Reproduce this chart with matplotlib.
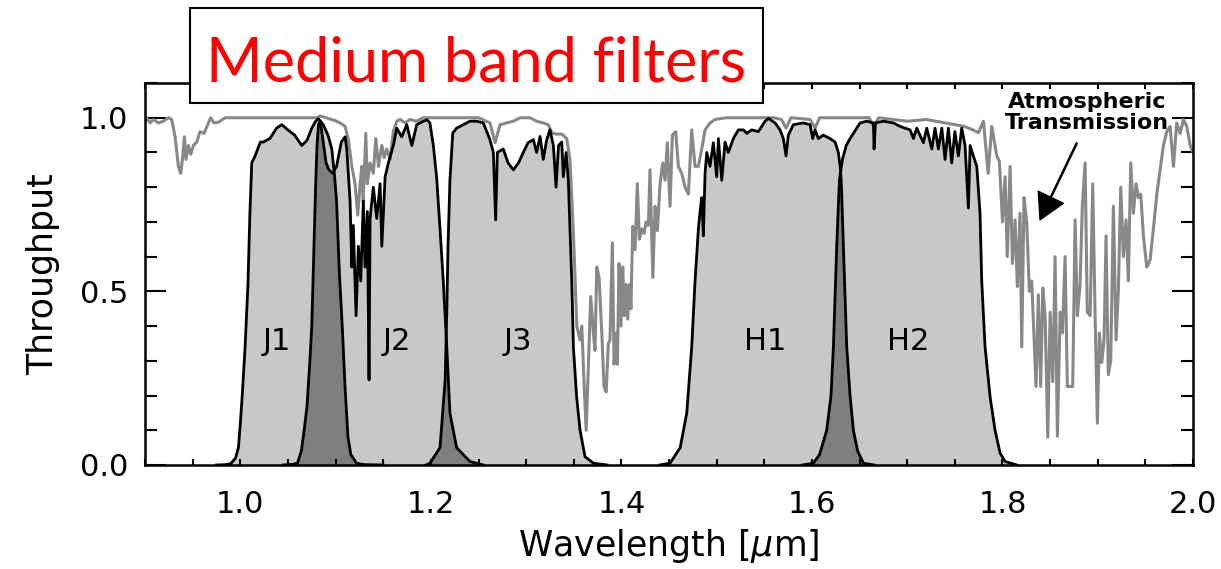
import numpy as np
import matplotlib
matplotlib.use('Agg')
import matplotlib.pyplot as plt
from matplotlib.patches import Rectangle
from matplotlib.ticker import MultipleLocator

plt.rcParams['font.family'] = 'DejaVu Sans'

# Atmospheric transmission
atm_wl = [0.900, 0.9017, 0.9052, 0.9087, 0.914, 0.9192, 0.9245, 0.928, 0.9315, 0.935,
          0.9375, 0.9396, 0.9413, 0.943, 0.9455, 0.948, 0.9507, 0.9543, 0.9577, 0.962,
          0.9665, 0.969, 0.9724, 0.977, 0.984, 1.000, 1.050, 1.080, 1.0837, 1.090,
          1.101, 1.1047, 1.110, 1.1134, 1.117, 1.1204, 1.1232, 1.1255, 1.1275, 1.129,
          1.1317, 1.1333, 1.1362, 1.1396, 1.1422, 1.145, 1.1485, 1.151, 1.1537, 1.1572,
          1.1606, 1.1642, 1.1677, 1.173, 1.178, 1.185, 1.192, 1.220, 1.250, 1.262,
          1.2674, 1.2726, 1.2866, 1.2936, 1.304, 1.311, 1.318, 1.3233, 1.327, 1.332,
          1.3374, 1.3426, 1.346, 1.3496, 1.3532, 1.3566, 1.3584, 1.3608, 1.363, 1.3653,
          1.3678, 1.3706, 1.3723, 1.3741, 1.3766, 1.3794, 1.3818, 1.384, 1.3863, 1.388,
          1.3905, 1.3923, 1.3944, 1.3958, 1.3975, 1.3996, 1.4014, 1.403, 1.4049, 1.4066,
          1.4084, 1.410, 1.4119, 1.4143, 1.4167, 1.4188, 1.4214, 1.4238, 1.4259, 1.4283,
          1.430, 1.433, 1.4353, 1.4377, 1.4406, 1.4434, 1.4458, 1.4482, 1.451, 1.4535,
          1.457, 1.4598, 1.4633, 1.4668, 1.4703, 1.4738, 1.4773, 1.4808, 1.4843, 1.4878,
          1.493, 1.4983, 1.510, 1.560, 1.568, 1.5728, 1.578, 1.598, 1.6033, 1.608,
          1.660, 1.6645, 1.670, 1.700, 1.720, 1.740, 1.760, 1.769, 1.7747, 1.780,
          1.785, 1.7887, 1.794, 1.7967, 1.800, 1.8027, 1.805, 1.808, 1.8104, 1.8132,
          1.8156, 1.8184, 1.8202, 1.8226, 1.8254, 1.8282, 1.8307, 1.8352, 1.8376, 1.8401,
          1.8423, 1.8447, 1.8475, 1.850, 1.8528, 1.8552, 1.8576, 1.8605, 1.8629, 1.8657,
          1.8681, 1.871, 1.8737, 1.8762, 1.8786, 1.8814, 1.8838, 1.8867, 1.889, 1.892,
          1.8947, 1.8972, 1.8996, 1.9017, 1.9042, 1.9066, 1.9087, 1.9111, 1.9136, 1.9164,
          1.9192, 1.9216, 1.9241, 1.9269, 1.9297, 1.9321, 1.9346, 1.9374, 1.9402, 1.9426,
          1.9451, 1.9479, 1.9514, 1.9549, 1.9584, 1.962, 1.9654, 1.9689, 1.9724, 1.9759,
          1.9794, 1.9829, 1.9864, 1.990, 1.9934, 1.997, 2.000]
atm_tr = [0.99, 1.0, 0.985, 0.995, 0.985, 0.99, 1.0, 0.995, 0.945, 0.86,
          0.84, 0.89, 0.945, 0.88, 0.92, 0.895, 0.92, 0.93, 0.96, 0.955,
          0.985, 1.0, 0.985, 0.987, 1.0, 1.0, 1.0, 1.0, 1.005, 1.0,
          0.99, 0.985, 0.975, 0.937, 0.86, 0.81, 0.72, 0.80, 0.86, 0.76,
          0.955, 0.81, 0.87, 0.84, 0.94, 0.86, 0.92, 0.885, 0.91, 0.88,
          0.96, 0.99, 0.995, 0.985, 0.995, 0.99, 1.0, 1.0, 1.0, 0.985,
          0.928, 0.98, 0.99, 1.0, 1.0, 0.99, 0.985, 0.98, 0.956, 0.953,
          0.953, 0.94, 0.88, 0.668, 0.40, 0.36, 0.40, 0.236, 0.10, 0.283,
          0.485, 0.38, 0.33, 0.57, 0.54, 0.38, 0.226, 0.21, 0.35, 0.36,
          0.64, 0.29, 0.38, 0.29, 0.58, 0.40, 0.57, 0.43, 0.52, 0.42,
          0.52, 0.45, 0.687, 0.62, 0.81, 0.65, 0.68, 0.667, 0.70, 0.69,
          0.85, 0.54, 0.745, 0.675, 0.81, 0.87, 0.82, 0.928, 0.745, 0.95,
          0.96, 0.86, 0.84, 0.80, 0.78, 0.965, 0.86, 0.86, 0.91, 0.965,
          0.985, 0.995, 1.0, 1.0, 0.995, 0.97, 1.0, 0.995, 0.97, 1.0,
          1.0, 0.975, 1.0, 0.99, 0.995, 0.985, 0.975, 0.965, 0.957, 0.99,
          0.84, 0.975, 0.89, 0.875, 0.70, 0.83, 0.60, 0.86, 0.58, 0.706,
          0.514, 0.725, 0.34, 0.77, 0.70, 0.50, 0.53, 0.226, 0.49, 0.226,
          0.51, 0.43, 0.08, 0.44, 0.24, 0.60, 0.083, 0.44, 0.38, 0.60,
          0.226, 0.226, 0.226, 0.706, 0.43, 0.52, 0.745, 0.87, 0.44, 0.43,
          0.81, 0.43, 0.12, 0.38, 0.295, 0.36, 0.66, 0.26, 0.30, 0.745,
          0.36, 0.50, 0.80, 0.60, 0.706, 0.53, 0.87, 0.725, 0.81, 0.77,
          0.78, 0.66, 0.57, 0.59, 0.68, 0.78, 0.85, 0.92, 0.96, 0.975,
          0.86, 0.985, 0.955, 0.995, 0.975, 0.92, 0.90]

# Filter throughputs
j1_wl = [0.975, 0.985, 0.990, 0.995, 0.998, 1.000, 1.002, 1.005, 1.008, 1.010,
         1.012, 1.0155, 1.021, 1.024, 1.031, 1.038, 1.0435, 1.050, 1.057, 1.0645,
         1.070, 1.075, 1.079, 1.082, 1.087, 1.092, 1.096, 1.099, 1.101, 1.104,
         1.107, 1.110, 1.113, 1.116, 1.122, 1.130, 1.150]
j1_tr = [0.0, 0.001, 0.004, 0.02, 0.05, 0.12, 0.20, 0.34, 0.52, 0.72,
         0.87, 0.89, 0.93, 0.93, 0.94, 0.97, 0.98, 0.965, 0.95, 0.92,
         0.935, 0.97, 0.99, 0.997, 0.98, 0.95, 0.91, 0.83, 0.76, 0.55,
         0.40, 0.22, 0.08, 0.03, 0.005, 0.001, 0.0]

j2_wl = [1.045, 1.055, 1.060, 1.064, 1.067, 1.070, 1.073, 1.075, 1.077, 1.079,
         1.0805, 1.082, 1.084, 1.087, 1.090, 1.093, 1.097, 1.101, 1.106, 1.110,
         1.1117, 1.1152, 1.117, 1.1186, 1.1215, 1.1239, 1.1264, 1.1291, 1.1309, 1.1333,
         1.1351, 1.1362, 1.1396, 1.1432, 1.1467, 1.1485, 1.152, 1.1554, 1.1606, 1.1642,
         1.1694, 1.1747, 1.180, 1.1852, 1.1921, 1.196, 1.199, 1.2026, 1.206, 1.2096,
         1.213, 1.2167, 1.220, 1.227, 1.241, 1.255]
j2_tr = [0.0, 0.002, 0.005, 0.04, 0.10, 0.17, 0.30, 0.40, 0.60, 0.80,
         0.92, 0.98, 0.99, 0.93, 0.87, 0.85, 0.84, 0.86, 0.93, 0.945,
         0.91, 0.76, 0.57, 0.69, 0.43, 0.63, 0.53, 0.76, 0.57, 0.73,
         0.245, 0.71, 0.80, 0.71, 0.81, 0.63, 0.83, 0.87, 0.92, 0.97,
         0.945, 0.98, 0.92, 0.98, 0.99, 0.994, 0.985, 0.92, 0.83, 0.68,
         0.53, 0.34, 0.15, 0.05, 0.01, 0.0]

j3_wl = [1.195, 1.199, 1.2096, 1.215, 1.2167, 1.218, 1.220, 1.223, 1.227, 1.234,
         1.241, 1.248, 1.255, 1.262, 1.2656, 1.268, 1.2698, 1.276, 1.281, 1.2866,
         1.292, 1.297, 1.302, 1.3076, 1.311, 1.3146, 1.318, 1.3216, 1.325, 1.3286,
         1.3314, 1.334, 1.3374, 1.339, 1.342, 1.3443, 1.346, 1.3479, 1.3496, 1.353,
         1.3566, 1.3618, 1.3706, 1.385]
j3_tr = [0.0, 0.005, 0.05, 0.245, 0.44, 0.63, 0.82, 0.956, 0.97, 0.98,
         0.99, 0.99, 0.985, 0.937, 0.90, 0.706, 0.90, 0.91, 0.87, 0.85,
         0.87, 0.90, 0.928, 0.937, 0.90, 0.946, 0.88, 0.937, 0.965, 0.92,
         0.80, 0.92, 0.93, 0.83, 0.90, 0.82, 0.68, 0.53, 0.34, 0.196,
         0.10, 0.024, 0.005, 0.0]

h1_wl = [1.440, 1.451, 1.4617, 1.4686, 1.4738, 1.4773, 1.4808, 1.4826, 1.4843, 1.486,
         1.4878, 1.4896, 1.493, 1.4965, 1.500, 1.5018, 1.5053, 1.5088, 1.5122, 1.5175,
         1.5228, 1.528, 1.5316, 1.5368, 1.5437, 1.5508, 1.5543, 1.5613, 1.5665, 1.570,
         1.5728, 1.5752, 1.5805, 1.591, 1.598, 1.6008, 1.6033, 1.6067, 1.612, 1.619,
         1.6243, 1.6277, 1.630, 1.631, 1.633, 1.6365, 1.640, 1.6435, 1.648, 1.654,
         1.665]
h1_tr = [0.0, 0.005, 0.05, 0.15, 0.34, 0.53, 0.68, 0.73, 0.77, 0.66,
         0.84, 0.90, 0.86, 0.928, 0.83, 0.94, 0.82, 0.93, 0.90, 0.94,
         0.965, 0.965, 0.955, 0.965, 0.96, 0.99, 0.998, 0.985, 0.965, 0.94,
         0.89, 0.95, 0.98, 0.985, 0.98, 0.94, 0.965, 0.94, 0.95, 0.94,
         0.93, 0.90, 0.85, 0.80, 0.63, 0.34, 0.20, 0.10, 0.04, 0.005,
         0.0]

h2_wl = [1.590, 1.6015, 1.608, 1.6155, 1.620, 1.6225, 1.626, 1.6288, 1.632, 1.636,
         1.640, 1.6505, 1.6575, 1.6645, 1.6652, 1.6666, 1.675, 1.6855, 1.6925, 1.703,
         1.7065, 1.710, 1.717, 1.7205, 1.7258, 1.7292, 1.7327, 1.7363, 1.7397, 1.7432,
         1.7467, 1.750, 1.7537, 1.7572, 1.7607, 1.7642, 1.766, 1.7694, 1.773, 1.7764,
         1.7782, 1.7817, 1.787, 1.7922, 1.7975, 1.8027, 1.815]
h2_tr = [0.0, 0.005, 0.03, 0.10, 0.20, 0.34, 0.63, 0.82, 0.88, 0.92,
         0.94, 0.985, 0.99, 0.985, 0.91, 0.985, 0.99, 0.985, 0.975, 0.965,
         0.94, 0.97, 0.928, 0.97, 0.91, 0.97, 0.91, 0.97, 0.88, 0.97,
         0.87, 0.96, 0.89, 0.97, 0.92, 0.74, 0.92, 0.89, 0.86, 0.726,
         0.53, 0.34, 0.196, 0.10, 0.034, 0.01, 0.0]

filter_names = ['J1', 'J2', 'J3', 'H1', 'H2']
name_x = [1.038, 1.164, 1.2915, 1.551, 1.701]
name_y = 0.355

filters = [(j1_wl, j1_tr), (j2_wl, j2_tr), (j3_wl, j3_tr), (h1_wl, h1_tr), (h2_wl, h2_tr)]

light = '#c8c8c8'
dark = '#7f7f7f'

fig = plt.figure(figsize=(12.21, 5.69), dpi=100)
ax = fig.add_axes([0.1188, 0.1828, 0.8583, 0.6713])

# filled filter curves, overlaps shaded darker
polys = []
for wl, tr in filters:
    p = ax.fill(wl, tr, color=light, lw=0, zorder=1)[0]
    polys.append(p)
for a, b in [(0, 1), (1, 2), (3, 4)]:
    d = ax.fill(*filters[b], color=dark, lw=0, zorder=1.2)[0]
    d.set_clip_path(polys[a])

ax.plot(atm_wl, atm_tr, color='#888888', lw=2.2, zorder=2)
for wl, tr in filters:
    ax.plot(wl, tr, color='black', lw=2.0, zorder=3)

for name, xn in zip(filter_names, name_x):
    ax.text(xn, name_y, name, fontsize=22, ha='center', va='center', zorder=4)

ax.text(1.889, 1.016, 'Atmospheric\nTransmission', fontsize=16, fontweight='bold',
        ha='center', va='center', linespacing=1.05, zorder=4)
ax.annotate('', xy=(1.8394, 0.706), xytext=(1.878, 0.927),
            arrowprops=dict(width=0.8, headwidth=20, headlength=18, color='black', shrink=0))

ax.set_xlim(0.9, 2.0)
ax.set_ylim(0.0, 1.1)
ax.set_xticks([1.0, 1.2, 1.4, 1.6, 1.8, 2.0])
ax.set_yticks([0.0, 0.5, 1.0])
ax.xaxis.set_minor_locator(MultipleLocator(0.05))
ax.yaxis.set_minor_locator(MultipleLocator(0.1))
ax.tick_params(which='both', direction='in', top=True, right=True, labelsize=22, width=1.5)
ax.tick_params(axis='x', which='both', length=4, pad=18)
ax.tick_params(axis='y', which='major', length=15, pad=12)
ax.tick_params(axis='y', which='minor', length=8.5)
for s in ax.spines.values():
    s.set_linewidth(1.8)

ax.set_xlabel(r'Wavelength [$\mu$m]', fontsize=25, labelpad=6)
ax.set_ylabel('Throughput', fontsize=25, labelpad=14)

# title box on top of the plot frame
fig.add_artist(Rectangle((0.1556, 0.819), 0.4693, 0.167, transform=fig.transFigure,
                         facecolor='white', edgecolor='black', lw=1.5, zorder=5))
fig.text(0.3903, 0.856, 'Medium band filters', color='red', fontsize=44, family='Lato',
         ha='center', va='baseline', zorder=6)

fig.savefig('out.png', dpi=100)
